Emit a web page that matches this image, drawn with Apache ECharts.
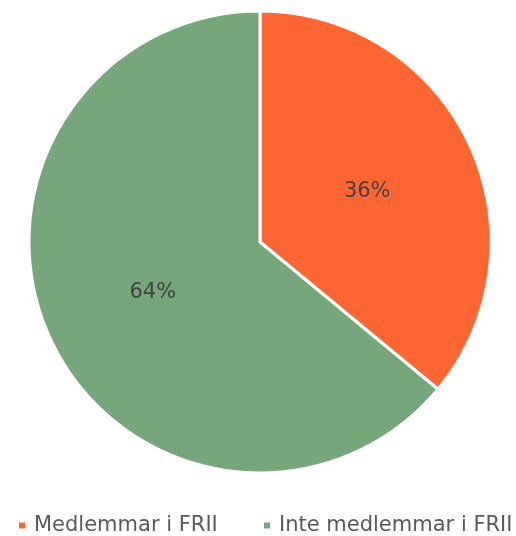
<!DOCTYPE html>
<html>
<head>
<meta charset="utf-8">
<script src="https://cdn.jsdelivr.net/npm/echarts@6/dist/echarts.min.js"></script>
<style>
  html, body { margin: 0; padding: 0; background: #fff; }
  #chart { width: 516px; height: 536px; }
</style>
</head>
<body>
<div id="chart"></div>
<script>
var categories = ['Medlemmar i FRII', 'Inte medlemmar i FRII']
var values = [36, 64]
var colors = ['#FF6633', '#77A67B']
var legendLeft = [12, 257]

var myChart = echarts.init(document.getElementById('chart'))

var pieData = []
var legends = []
for (let i = 0; i < categories.length; i++) {
  pieData.push({ name: categories[i], value: values[i], itemStyle: { color: colors[i] } })
  legends.push({
    data: [categories[i]],
    left: legendLeft[i],
    top: 510,
    icon: 'rect',
    itemWidth: 8,
    itemHeight: 8,
    textStyle: {
      color: '#595959',
      fontSize: 21,
      fontFamily: 'DejaVu Sans, sans-serif',
      padding: [0, 0, 0, 3]
    }
  })
}

var option = {
  animation: false,
  legend: legends,
  series: [
    {
      type: 'pie',
      center: [260, 242],
      radius: 231,
      startAngle: 90,
      clockwise: true,
      data: pieData,
      itemStyle: {
        borderColor: '#ffffff',
        borderWidth: 3
      },
      label: {
        show: true,
        position: 'inside',
        formatter: '{d}%',
        color: '#404040',
        fontSize: 21,
        fontFamily: 'DejaVu Sans, sans-serif'
      },
      labelLine: { show: false },
      emphasis: { disabled: true }
    }
  ]
}

myChart.setOption(option)
</script>
</body>
</html>
